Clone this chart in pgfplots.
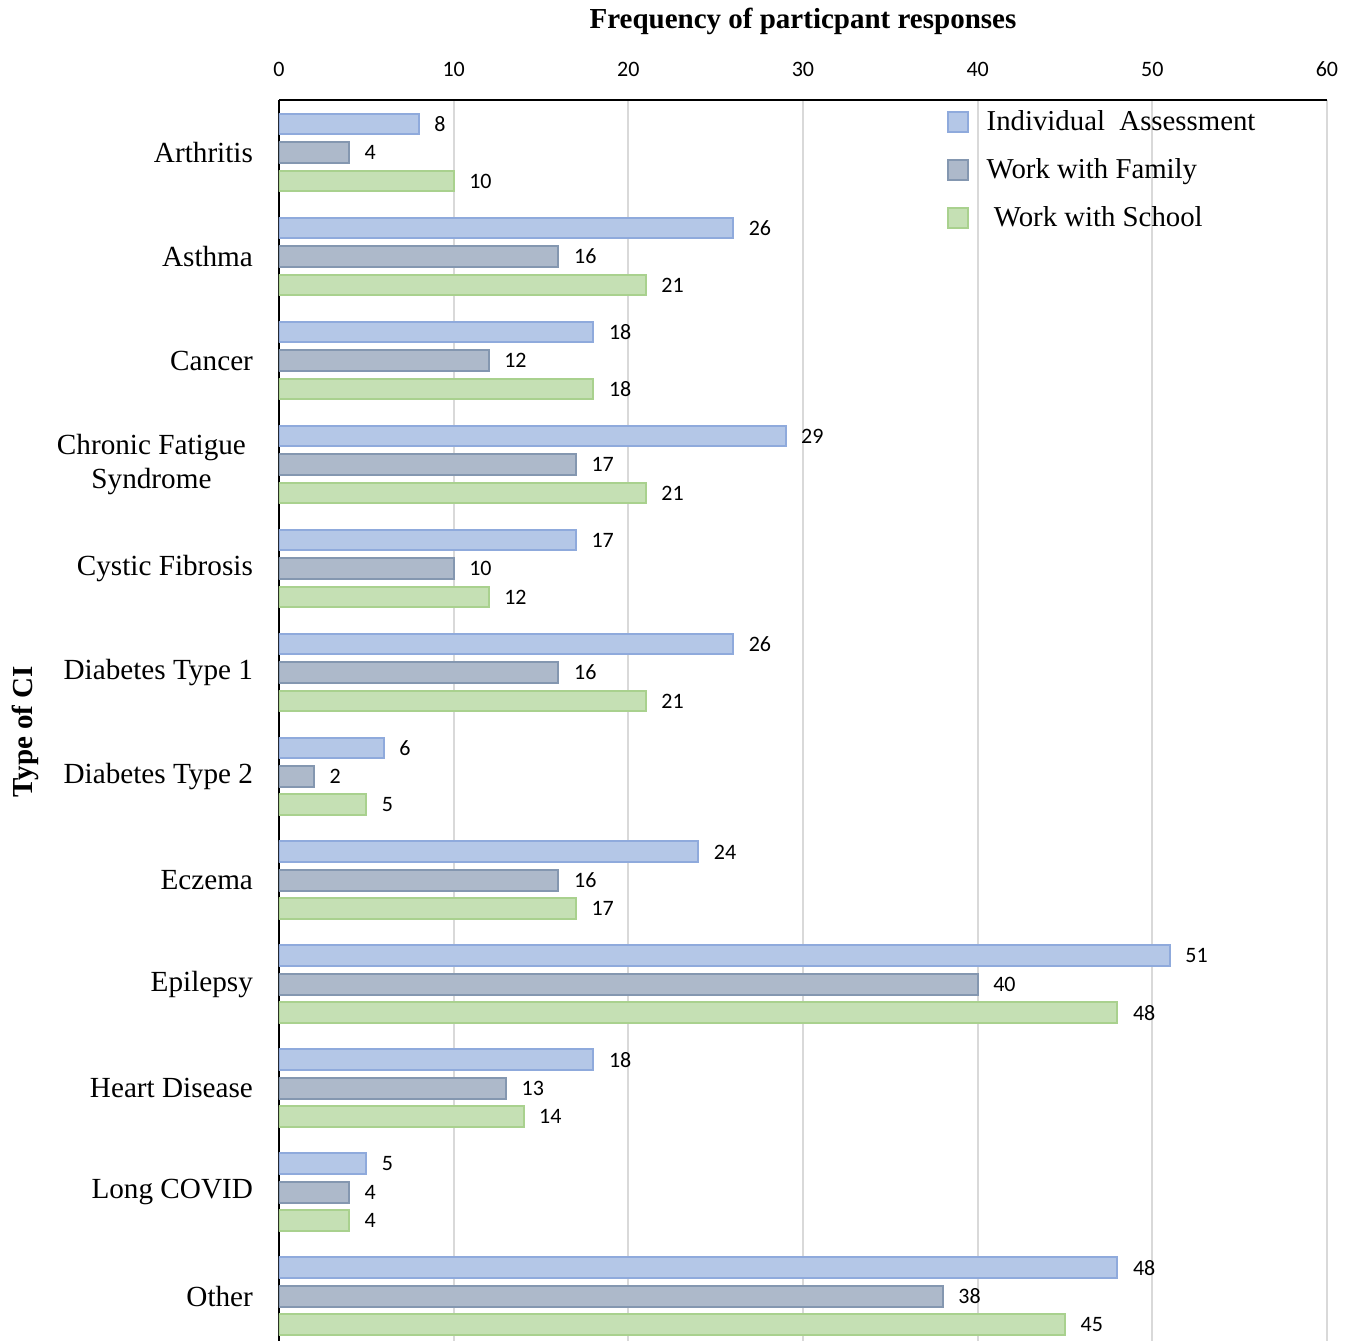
\documentclass[border=0pt]{standalone}
\usepackage{pgfplots}
\pgfplotsset{compat=1.18}
\usepackage{fontspec}
\setmainfont{Liberation Serif}
\newfontfamily\carlito{Carlito}
\definecolor{iaFill}{HTML}{B4C7E7}
\definecolor{iaDraw}{HTML}{8FAADC}
\definecolor{wfFill}{HTML}{ADB9CA}
\definecolor{wfDraw}{HTML}{8497B0}
\definecolor{wsFill}{HTML}{C5E0B4}
\definecolor{wsDraw}{HTML}{A9D18E}
\definecolor{gridgray}{HTML}{D9D9D9}
\begin{document}
\begin{tikzpicture}
\begin{axis}[
  at={(0,0)}, anchor=south west,
  scale only axis,
  width=524pt, height=620.5pt,
  xbar, bar width=0.2,
  xmin=0, xmax=60,
  y dir=reverse,
  ymin=-0.505, ymax=11.43,
  axis x line*=top,
  axis y line*=left,
  axis line style={black, line width=1pt, -},
  xtick={0,10,...,60},
  ytick={0,...,11},
  yticklabels={Arthritis,Asthma,Cancer,{Chronic Fatigue\hspace*{3.5pt}\\Syndrome\hspace*{3.5pt}},Cystic Fibrosis,Diabetes Type 1,Diabetes Type 2,Eczema,Epilepsy,Heart Disease,Long COVID,Other},
  major tick length=0pt,
  xmajorgrids,
  grid style={gridgray, line width=1pt},
  /pgf/number format/assume math mode=true,
  xticklabel style={font=\carlito\fontsize{11}{13}\selectfont, yshift=8pt},
  yticklabel style={font=\rmfamily\fontsize{14.6}{17}\selectfont, align=center, xshift=-9.5pt},
  xlabel={Frequency of particpant responses},
  xlabel style={font=\rmfamily\bfseries\fontsize{14.5}{17}\selectfont, at={(axis description cs:0.5,1.063)}, anchor=center},
  ylabel={Type of CI},
  ylabel style={font=\rmfamily\bfseries\fontsize{14.5}{17}\selectfont, at={(axis description cs:-0.2424,0.491)}, anchor=center},
  nodes near coords,
  nodes near coords style={font=\carlito\fontsize{11}{13}\selectfont, anchor=west, xshift=4pt, black},
  legend style={at={(axis description cs:0.631,0.998)}, anchor=north west, draw=none, fill=none,
    font=\rmfamily\fontsize{14.4}{17}\selectfont, row sep=8.5pt,
    /tikz/every odd column/.append style={column sep=7pt}},
  legend cell align=left,
  legend image code/.code={\draw[#1, line width=1pt] (0pt,-5pt) rectangle (10pt,5pt);},
]
\addplot[fill=iaFill, draw=iaDraw, line width=1pt, bar shift=-0.274] coordinates {
 (8,0) (26,1) (18,2) (29,3) (17,4) (26,5) (6,6) (24,7) (51,8) (18,9) (5,10) (48,11)};
\addlegendentry{Individual\ \ Assessment}
\addplot[fill=wfFill, draw=wfDraw, line width=1pt, bar shift=0] coordinates {
 (4,0) (16,1) (12,2) (17,3) (10,4) (16,5) (2,6) (16,7) (40,8) (13,9) (4,10) (38,11)};
\addlegendentry{Work with Family}
\addplot[fill=wsFill, draw=wsDraw, line width=1pt, bar shift=0.274] coordinates {
 (10,0) (21,1) (18,2) (21,3) (12,4) (21,5) (5,6) (17,7) (48,8) (14,9) (4,10) (45,11)};
\addlegendentry{\ Work with School}
\end{axis}
\pgfresetboundingbox
\path (-139.5pt,0pt) rectangle (538.5pt,670.5pt);
\end{tikzpicture}
\end{document}
